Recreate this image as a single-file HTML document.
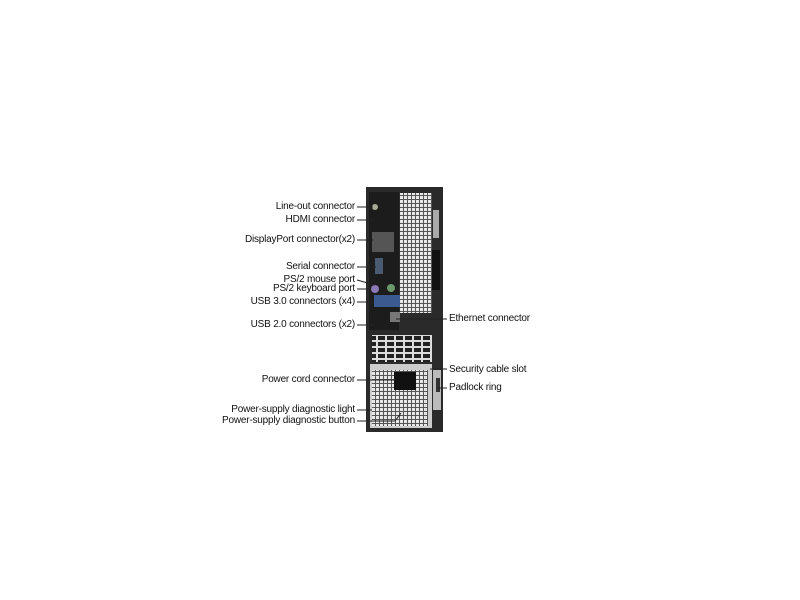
<!DOCTYPE html><html><head><style>
body{margin:0;width:800px;height:600px;background:#fff;position:relative;overflow:hidden;font-family:"Liberation Sans",sans-serif}
.l{position:absolute;font-size:10px;color:#111;white-space:nowrap;line-height:12px;letter-spacing:-0.2px}
.r{right:445px;text-align:right}
</style></head><body>
<svg width="800" height="600" style="position:absolute;left:0;top:0">
<defs>
<pattern id="g" width="4" height="4" patternUnits="userSpaceOnUse"><rect width="4" height="4" fill="#555"/><rect width="3" height="3" fill="#e8e8e8"/></pattern>
<pattern id="h" width="9" height="6" patternUnits="userSpaceOnUse"><rect width="9" height="6" fill="#ddd"/><rect width="7" height="4" fill="#222"/></pattern>
</defs>
<rect x="366" y="187" width="77" height="245" fill="#2a2a2a"/>
<rect x="369" y="192" width="30" height="138" fill="#1c1c1c"/>
<rect x="400" y="193" width="32" height="120" fill="url(#g)"/>
<rect x="433" y="210" width="6" height="28" fill="#aaa"/>
<rect x="432" y="250" width="8" height="40" fill="#111"/>
<rect x="372" y="335" width="60" height="27" fill="url(#h)"/>
<rect x="370" y="364" width="62" height="64" fill="#ccc"/>
<rect x="372" y="370" width="56" height="56" fill="url(#g)"/>
<rect x="394" y="372" width="22" height="18" fill="#111"/>
<rect x="433" y="370" width="8" height="40" fill="#bbb"/>
<rect x="436" y="378" width="4" height="14" fill="#333"/>
<rect x="374" y="295" width="26" height="12" fill="#3a5a90"/>
<circle cx="375" cy="207" r="3" fill="#aa9"/>
<rect x="372" y="232" width="22" height="20" fill="#555"/>
<rect x="375" y="258" width="8" height="16" fill="#4a5a70"/>
<circle cx="375" cy="289" r="4" fill="#8a7ab8"/><circle cx="391" cy="288" r="4" fill="#6b9a6b"/>
<rect x="390" y="312" width="10" height="10" fill="#777"/>
<g stroke="#222" stroke-width="1">
<line x1="357" y1="207" x2="373" y2="207"/><line x1="357" y1="220" x2="373" y2="220"/>
<line x1="357" y1="240" x2="373" y2="240"/><line x1="357" y1="267" x2="376" y2="267"/>
<line x1="357" y1="280" x2="375" y2="285"/><line x1="357" y1="289" x2="370" y2="289"/>
<line x1="357" y1="302" x2="373" y2="302"/><line x1="357" y1="325" x2="375" y2="325"/>
<line x1="357" y1="380" x2="395" y2="380"/><line x1="357" y1="410" x2="372" y2="410"/>
<line x1="357" y1="421" x2="395" y2="421"/><line x1="395" y1="421" x2="401" y2="413"/>
<line x1="396" y1="319" x2="447" y2="319"/><line x1="430" y1="369" x2="447" y2="369"/>
<line x1="438" y1="388" x2="447" y2="388"/>
</g></svg>
<div class="l r" style="top:201px">Line-out connector</div>
<div class="l r" style="top:214px">HDMI connector</div>
<div class="l r" style="top:234px">DisplayPort connector(x2)</div>
<div class="l r" style="top:261px">Serial connector</div>
<div class="l r" style="top:274px">PS/2 mouse port</div>
<div class="l r" style="top:283px">PS/2 keyboard port</div>
<div class="l r" style="top:296px">USB 3.0 connectors (x4)</div>
<div class="l r" style="top:319px">USB 2.0 connectors (x2)</div>
<div class="l r" style="top:374px">Power cord connector</div>
<div class="l r" style="top:404px">Power-supply diagnostic light</div>
<div class="l r" style="top:415px">Power-supply diagnostic button</div>
<div class="l" style="left:449px;top:313px">Ethernet connector</div>
<div class="l" style="left:449px;top:364px">Security cable slot</div>
<div class="l" style="left:449px;top:382px">Padlock ring</div>
</body></html>
